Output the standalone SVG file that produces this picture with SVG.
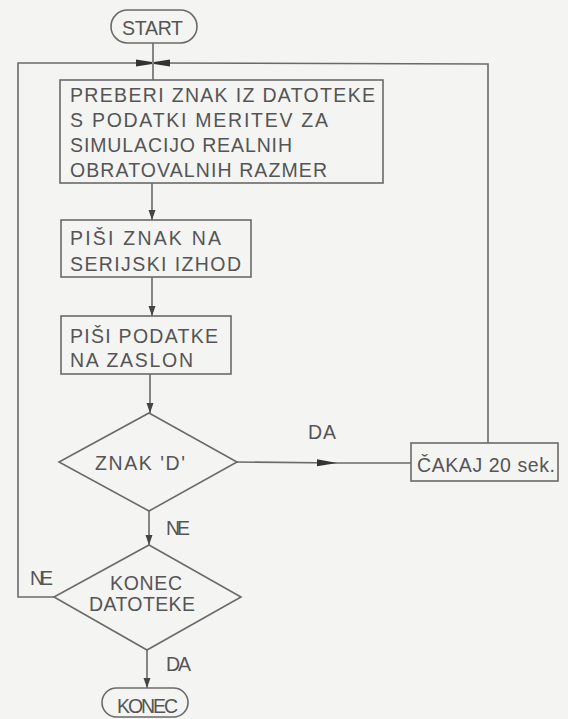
<svg xmlns="http://www.w3.org/2000/svg" width="568" height="719" viewBox="0 0 568 719">
<style>
.s{fill:none;stroke:#6a6a6a;stroke-width:1.6}
.b{fill:#f4f4f3;stroke:#6a6a6a;stroke-width:1.6}
text{font-family:"Liberation Sans","DejaVu Sans",sans-serif;font-size:19.5px;fill:#555}
</style>
<defs>
<marker id="a" viewBox="0 0 10 8" refX="10" refY="4" markerWidth="10" markerHeight="8" markerUnits="userSpaceOnUse" orient="auto">
<path d="M0,0.5 L10,4 L0,7.5 Z" fill="#444"/>
</marker>
<marker id="t" viewBox="0 0 16 8" refX="16" refY="4" markerWidth="16" markerHeight="8" markerUnits="userSpaceOnUse" orient="auto">
<path d="M0,0.5 L16,3 L16,5 L0,7.5 Z" fill="#333"/>
</marker>
<marker id="d" viewBox="0 0 20 8" refX="20" refY="4" markerWidth="20" markerHeight="8" markerUnits="userSpaceOnUse" orient="auto">
<path d="M0,0.5 L20,4 L0,7.5 Z" fill="#333"/>
</marker>
</defs>
<rect width="568" height="719" fill="#f4f4f3"/>
<g id="connectors">
<line class="s" x1="153" y1="43" x2="153" y2="80"/>
<polyline class="s" points="54,597 18,597 18,63 152,63" marker-end="url(#t)"/>
<polyline class="s" points="488,443 488,64 154,63" marker-end="url(#t)"/>
<line class="s" x1="152" y1="183" x2="152" y2="220" marker-end="url(#a)"/>
<line class="s" x1="152" y1="277" x2="152" y2="316" marker-end="url(#a)"/>
<line class="s" x1="150" y1="374" x2="150" y2="413" marker-end="url(#a)"/>
<line class="s" x1="237" y1="462" x2="337" y2="463" marker-end="url(#d)"/>
<line class="s" x1="337" y1="463" x2="412" y2="463"/>
<line class="s" x1="149" y1="511" x2="149" y2="545" marker-end="url(#a)"/>
<line class="s" x1="147" y1="650" x2="147" y2="688" marker-end="url(#a)"/>
<text x="308" y="439" textLength="28">DA</text>
<text x="166" y="535" textLength="24">NE</text>
<text x="30" y="585" textLength="23">NE</text>
<text x="166" y="671" textLength="25">DA</text>
</g>
<g id="start">
<rect class="b" x="111" y="10" width="86" height="33" rx="16.5"/>
<text x="122" y="35" textLength="61">START</text>
</g>
<g id="preberi">
<rect class="b" x="60" y="80" width="323" height="103"/>
<text x="70" y="102" textLength="305">PREBERI ZNAK IZ DATOTEKE</text>
<text x="70" y="127" textLength="258">S PODATKI MERITEV ZA</text>
<text x="70" y="152" textLength="222">SIMULACIJO REALNIH</text>
<text x="70" y="177" textLength="257">OBRATOVALNIH RAZMER</text>
</g>
<g id="pisi-znak">
<rect class="b" x="61" y="220" width="190" height="57"/>
<text x="70" y="245" textLength="151">PIŠI ZNAK NA</text>
<text x="70" y="271" textLength="171">SERIJSKI IZHOD</text>
</g>
<g id="pisi-podatke">
<rect class="b" x="61" y="316" width="170" height="58"/>
<text x="70" y="343" textLength="148">PIŠI PODATKE</text>
<text x="70" y="367" textLength="123">NA ZASLON</text>
</g>
<g id="znak-d">
<polygon class="b" points="149,413 237,462 149,511 59,462"/>
<text x="95" y="470" textLength="90">ZNAK 'D'</text>
</g>
<g id="cakaj">
<rect class="b" x="411" y="443" width="147" height="38"/>
<text x="417" y="472" textLength="138">ČAKAJ 20 sek.</text>
</g>
<g id="konec-datoteke">
<polygon class="b" points="149,545 241,597 147,650 54,597"/>
<text x="110" y="590" textLength="72">KONEC</text>
<text x="89" y="611" textLength="106">DATOTEKE</text>
</g>
<g id="konec">
<rect class="b" x="102" y="688" width="86" height="29" rx="14.5"/>
<text x="117" y="713" textLength="61">KONEC</text>
</g>
</svg>
